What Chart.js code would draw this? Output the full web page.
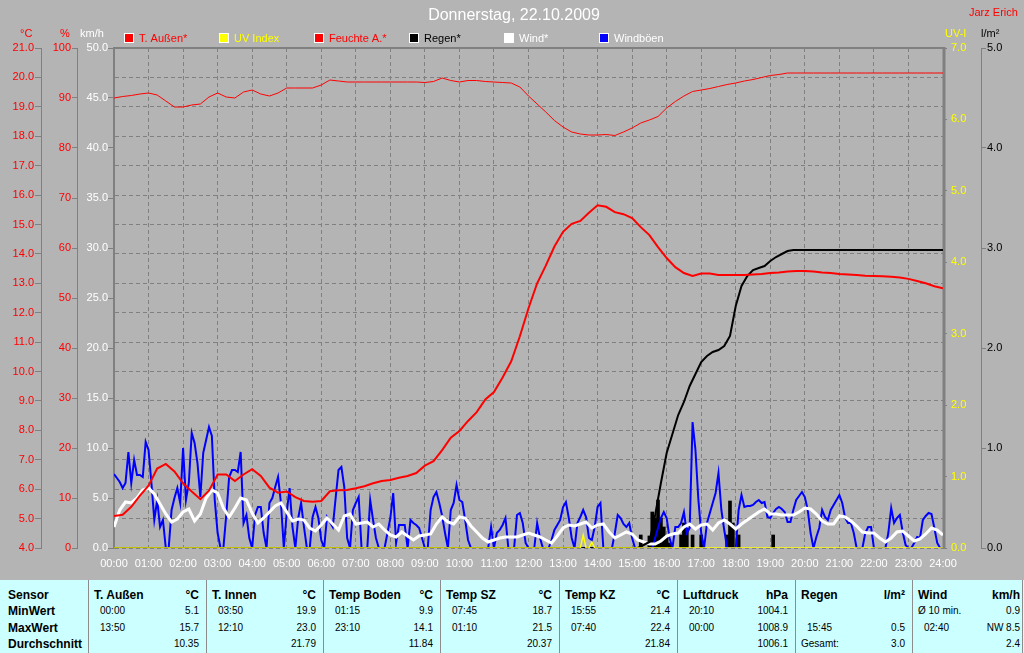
<!DOCTYPE html>
<html>
<head>
<meta charset="utf-8">
<title>Donnerstag, 22.10.2009</title>
<script src="https://cdn.jsdelivr.net/npm/chart.js@4.4.0/dist/chart.umd.min.js"></script>
<style>
  body { margin: 0; background: #b4b4b4; width: 1024px; height: 653px; overflow: hidden; position: relative; }
  #chart { position: absolute; left: 0; top: 0; }
  #stats { position: absolute; left: 0; top: 580px; width: 1024px; height: 73px; background: #ccffff; }
  #stats span { position: absolute; white-space: nowrap; line-height: 16px; color: #000; }
  #stats .b { font-weight: bold; font-family: "Liberation Sans", Arial, sans-serif; font-size: 12px; }
  #stats .sep { position: absolute; top: 0; width: 1px; height: 73px; background: #8c8c8c; }
</style>
</head>
<body>
<canvas id="chart" width="1024" height="580"></canvas>
<div id="stats"></div>
<script>
// --- chart data -------------------------------------------------------
const chartTitle = 'Donnerstag, 22.10.2009';
const stationName = 'Jarz Erich';
const unitNames = ['°C', '%', 'km/h', 'UV-I', 'l/m²'];
const legendNames = ['T. Außen*', 'UV Index', 'Feuchte A.*', 'Regen*', 'Wind*', 'Windböen'];
const hourLabels = ['00:00','01:00','02:00','03:00','04:00','05:00','06:00','07:00','08:00','09:00','10:00','11:00',
  '12:00','13:00','14:00','15:00','16:00','17:00','18:00','19:00','20:00','21:00','22:00','23:00','24:00'];

// outside temperature, every 15 min (°C)
const tempC = [
  5.09, 5.13, 5.4, 5.78,  6.12, 6.7, 6.86, 6.6,  6.2, 5.92, 5.66, 5.95,  6.5, 6.5, 6.28, 6.5,
  6.68, 6.45, 6.05, 5.88,  5.92, 5.73, 5.6, 5.57,  5.6, 5.93, 5.96, 5.97,  6.03, 6.1, 6.2, 6.28,
  6.31, 6.39, 6.45, 6.55,  6.8, 6.95, 7.33, 7.75,  7.98, 8.32, 8.62, 9.05,  9.3, 9.8, 10.35, 11.2,
  12.15, 13.0, 13.6, 14.25,  14.75, 15.02, 15.12, 15.4,  15.65, 15.6, 15.42, 15.35,  15.22, 14.91, 14.64, 14.23,
  13.86, 13.55, 13.35, 13.25,  13.33, 13.33, 13.28, 13.28,  13.28, 13.28, 13.3, 13.32,  13.35, 13.37, 13.4, 13.42,
  13.42, 13.4, 13.37, 13.35,  13.32, 13.3, 13.28, 13.26,  13.25, 13.24, 13.22, 13.2,  13.15, 13.08, 13.0, 12.9,
  12.83
];
// outside humidity, every 15 min (%)
const humidity = [
  90.0, 90.3, 90.5, 90.8,  91.0, 90.6, 89.4, 88.2,  88.2, 88.6, 88.8, 90.2,  91.0, 90.2, 90.0, 91.2,
  91.6, 90.8, 90.4, 91.0,  92.0, 92.0, 92.0, 92.0,  92.6, 93.6, 93.4, 93.2,  93.2, 93.2, 93.2, 93.2,
  93.2, 93.2, 93.2, 93.2,  93.1, 93.3, 94.0, 93.5,  93.2, 93.5, 93.5, 93.3,  93.2, 93.1, 93.0, 92.2,
  90.4, 88.8, 87.2, 85.5,  84.2, 83.2, 82.8, 82.6,  82.6, 82.7, 82.5, 83.2,  84.0, 85.0, 85.6, 86.3,
  88.0, 89.3, 90.4, 91.3,  91.6, 91.9, 92.3, 92.7,  93.0, 93.4, 93.7, 94.1,  94.5, 94.7, 95.0, 95.0,
  95.0, 95.0, 95.0, 95.0,  95.0, 95.0, 95.0, 95.0,  95.0, 95.0, 95.0, 95.0,  95.0, 95.0, 95.0, 95.0,
  95.0
];
// mean wind, every 10 min (km/h)
const windAvg = [
  2.1, 3.8, 4.6, 4.5, 5.0, 5.8,   6.0, 5.4, 4.4, 3.4, 2.6, 2.9,   3.6, 3.9, 2.7, 3.4, 5.0, 5.8,
  5.5, 4.0, 3.1, 4.0, 5.0, 4.8,   3.5, 2.5, 3.0, 3.6, 4.2, 4.5,   3.6, 2.7, 2.9, 2.8, 2.0, 1.7,
  2.3, 3.0, 2.4, 1.8, 3.2, 3.4,   2.4, 2.5, 2.6, 2.1, 2.4, 1.8,   1.3, 1.1, 1.6, 1.2, 0.8, 1.2,
  1.3, 1.4, 2.4, 3.1, 2.6, 2.4,   3.1, 3.0, 2.2, 1.6, 1.0, 0.6,   0.8, 1.0, 1.1, 1.1, 1.1, 1.3,
  1.5, 1.3, 1.1, 0.8, 0.5, 1.2,   2.0, 2.3, 2.2, 2.4, 2.6, 2.0,   2.3, 2.4, 1.6, 1.0, 1.3, 1.6,
  1.4, 0.8, 0.6, 0.4, 0.4, 0.7,   1.2, 1.4, 1.5, 2.1, 2.4, 1.9,   2.3, 2.4, 1.8, 2.5, 2.8, 2.4,
  1.9, 2.4, 2.8, 3.2, 3.6, 3.9,   3.4, 3.4, 3.3, 3.3, 3.3, 3.6,   4.0, 3.9, 3.4, 2.7, 2.4, 2.4,
  3.2, 3.1, 2.7, 2.2, 1.6, 1.5,   1.5, 1.0, 0.6, 1.0, 1.6, 1.7,   1.2, 0.7, 0.9, 1.4, 2.0, 1.8,
  1.3
];
// wind gusts, every 5 min (km/h)
const windGust = [
  7.4, 7.0, 6.6, 6.0, 6.5, 9.6, 6.5, 8.8, 7.3, 7.3, 7.1, 10.6,
  9.8, 6.5, 2.8, 4.8, 2.1, 2.8, 0, 0, 3.8, 5.0, 6.0, 4.5,
  10.0, 4.8, 6.5, 11.5, 10.5, 8.5, 5.1, 9.5, 10.8, 12.1, 11.2, 4.8,
  1.5, 0, 0, 3.3, 7.1, 7.8, 7.8, 7.6, 9.6, 2.5, 3.3, 1.0,
  0, 3.3, 4.1, 4.1, 1.5, 0, 4.5, 5.0, 6.1, 7.1, 4.5, 0,
  3.5, 6.0, 2.1, 0, 3.0, 4.5, 2.1, 0, 0, 3.1, 4.1, 3.0,
  0.8, 0, 3.1, 2.6, 2.1, 5.0, 7.8, 8.1, 6.1, 1.0, 0, 3.8,
  4.5, 5.1, 0, 0, 0, 4.8, 2.8, 1.0, 0, 0, 0, 1.5,
  3.0, 5.5, 0.5, 2.3, 2.3, 2.3, 0, 2.8, 2.5, 2.3, 2.0, 1.0,
  0, 0, 3.8, 5.1, 5.6, 4.5, 3.2, 1.5, 0, 3.8, 4.5, 6.3,
  4.8, 4.6, 2.8, 0.8, 0, 0, 0, 0, 0, 0, 0, 2.1,
  0, 1.5, 1.8, 2.3, 3.0, 0, 0, 0, 3.3, 3.5, 2.5, 0.5,
  0, 0, 0, 2.5, 1.0, 0, 0, 0, 0.8, 1.8, 2.3, 2.8,
  4.1, 4.6, 3.0, 1.0, 0, 2.5, 3.1, 3.8, 3.1, 1.0, 0.8, 2.1,
  4.1, 4.5, 0, 0, 0, 0, 1.5, 3.3, 3.0, 2.4, 2.1, 2.5,
  1.0, 0, 0, 0, 0, 0, 0, 0, 1.0, 2.0, 3.0, 3.6,
  3.0, 1.0, 0, 2.1, 2.1, 2.5, 3.6, 1.5, 2.0, 12.6, 9.8, 4.9,
  1.5, 0, 2.5, 3.5, 4.5, 5.5, 7.5, 3.8, 1.8, 0, 0, 0,
  0, 3.8, 5.3, 4.1, 4.2, 4.2, 4.3, 4.6, 4.8, 4.5, 4.6, 3.1,
  3.0, 3.5, 3.9, 4.1, 3.9, 3.6, 2.6, 2.6, 3.8, 4.8, 5.2, 5.6,
  5.1, 3.8, 1.5, 0, 1.1, 2.0, 3.8, 3.1, 2.8, 3.8, 4.3, 4.8,
  5.3, 4.5, 3.0, 2.5, 2.5, 1.5, 0, 0, 0, 1.5, 2.1, 2.1,
  0, 0, 0, 0, 0, 1.5, 4.0, 2.5, 3.0, 3.3, 1.6, 0.3,
  0, 0, 0.5, 1.1, 1.0, 2.8, 3.2, 3.5, 3.4, 2.0, 0.5, 0,
  0
];
// rain, running total (l/m²)
const rainSumTimes = ['00:00','15:10','15:20','15:30','15:40','15:50','16:00','16:10','16:20','16:30','16:40','16:50',
  '17:00','17:10','17:20','17:30','17:40','17:50','18:00','18:10','18:20','18:30','18:40','18:50',
  '19:00','19:10','19:20','19:30','19:40','24:00'];
const rainSum = [0, 0, 0.03, 0.06, 0.33, 0.65, 0.95, 1.14, 1.33, 1.46, 1.62, 1.74,
  1.86, 1.92, 1.96, 1.98, 2.02, 2.12, 2.42, 2.62, 2.72, 2.78, 2.8, 2.82,
  2.87, 2.91, 2.94, 2.97, 2.98, 2.98];
// rain per 5 min (l/m²)
const rainBarTimes = ['15:15','15:30','15:35','15:40','15:45','15:50','15:55','16:00','16:05','16:25','16:30','16:35',
  '16:45','17:00','17:45','17:50','17:55','18:05','19:05'];
const rainBars = [0.13, 0.12, 0.36, 0.3, 0.48, 0.3, 0.21, 0.12, 0.05, 0.13, 0.25, 0.2,
  0.13, 0.13, 0.13, 0.47, 0.25, 0.13, 0.13];
// UV index
const uvTimes = ['00:00','13:30','13:35','13:40','13:45','13:50','13:55','24:00'];
const uvIndex = [0, 0, 0.18, 0, 0, 0.08, 0, 0];

// --- table under the chart -------------------------------------------
const tableCols = ['Sensor', 'T. Außen', 'T. Innen', 'Temp Boden', 'Temp SZ', 'Temp KZ', 'Luftdruck', 'Regen', 'Wind'];
const tableUnits = ['', '°C', '°C', '°C', '°C', '°C', 'hPa', 'l/m²', 'km/h'];
const tableRows = ['MinWert', 'MaxWert', 'Durchschnitt'];
const minTimes = ['00:00', '03:50', '01:15', '07:45', '15:55', '20:10', '', 'Ø 10 min.'];
const minVals = ['5.1', '19.9', '9.9', '18.7', '21.4', '1004.1', '', '0.9'];
const maxTimes = ['13:50', '12:10', '23:10', '01:10', '07:40', '00:00', '15:45', '02:40'];
const maxVals = ['15.7', '23.0', '14.1', '21.5', '22.4', '1008.9', '0.5', 'NW 8.5'];
const avgTimes = ['', '', '', '', '', '', 'Gesamt:', ''];
const avgVals = ['10.35', '21.79', '11.84', '20.37', '21.84', '1006.1', '3.0', '2.4'];

// --- fonts -------------------------------------------------------------
function hasFont(name) {
  const c = document.createElement('canvas').getContext('2d');
  c.font = '20px monospace';
  const a = c.measureText('abcdefghijWM00:00').width;
  c.font = '20px "' + name + '", monospace';
  return c.measureText('abcdefghijWM00:00').width !== a;
}
const narrow = hasFont('Liberation Sans Narrow');
const FAMILY = narrow ? '"Liberation Sans Narrow", "Liberation Sans", Arial' : '"Liberation Sans", Arial';
const FS = narrow ? 13 : 11;
const TFS = narrow ? 12 : 10;

const hrs = t => { const p = t.split(':'); return +p[0] + p[1] / 60; };
const grey = '#808080';

const framePlugin = {
  id: 'frame',
  beforeDatasetsDraw(chart) {
    const { ctx, chartArea: a } = chart;
    ctx.save();
    ctx.strokeStyle = grey;
    ctx.lineWidth = 2;
    ctx.beginPath();
    ctx.moveTo(a.left, a.bottom);
    ctx.lineTo(a.left, a.top);
    ctx.lineTo(a.right, a.top);
    ctx.stroke();
    ctx.lineWidth = 3;
    ctx.beginPath();
    ctx.moveTo(a.right + 1, a.top - 1);
    ctx.lineTo(a.right + 1, a.bottom);
    ctx.stroke();
    ctx.restore();
  }
};

const textPlugin = {
  id: 'texts',
  afterDraw(chart) {
    const ctx = chart.ctx;
    ctx.save();
    ctx.textBaseline = 'alphabetic';
    ctx.textAlign = 'center';
    ctx.fillStyle = '#ffffff';
    ctx.font = '16px "Liberation Sans", Arial';
    ctx.fillText(chartTitle, 514, 20);

    ctx.textAlign = 'left';
    ctx.font = FS + 'px ' + FAMILY;
    ctx.fillStyle = '#ff0000';
    ctx.fillText(stationName, 969, 16);

    const unitX = [20, 60, 80, 945, 981];
    const unitCol = ['#ff0000', '#ff0000', '#ffffff', '#ffff00', '#000000'];
    unitNames.forEach((u, i) => { ctx.fillStyle = unitCol[i]; ctx.fillText(u, unitX[i], 37); });

    const boxCol = ['#ff0000', '#ffff00', '#ff0000', '#000000', '#ffffff', '#0000ff'];
    const txtCol = ['#ff0000', '#ffff00', '#ff0000', '#000000', '#ffffff', '#ffffff'];
    legendNames.forEach((name, i) => {
      const x = 124 + 95 * i;
      ctx.fillStyle = '#ffffff';
      ctx.fillRect(x, 33, 10, 10);
      ctx.fillStyle = boxCol[i];
      ctx.fillRect(x + 1, 34, 8, 8);
      ctx.fillStyle = txtCol[i];
      ctx.fillText(name, x + 15, 42);
    });
    ctx.restore();
  }
};

const tickFont = { family: FAMILY, size: FS };
const yAxis = (pos, weight, min, max, step, color, width, tick, pad, digits, extra) => Object.assign({
  position: pos, weight: weight, min: min, max: max,
  afterFit: s => { s.width = width; },
  ticks: { stepSize: step, color: color, font: tickFont, padding: pad,
           callback: v => digits ? v.toFixed(1) : String(v) },
  grid: { drawOnChartArea: false, color: grey, tickColor: grey, tickLength: tick },
  border: { display: true, color: grey, width: 1 }
}, extra || {});

new Chart(document.getElementById('chart'), {
  type: 'line',
  data: {
    datasets: [
      { label: 'UV Index', yAxisID: 'yUV', order: 0, borderColor: '#ffff00', borderWidth: 1.5,
        data: uvTimes.map((t, i) => ({ x: hrs(t), y: uvIndex[i] })) },
      { label: 'Feuchte A.', yAxisID: 'yH', order: 1, borderColor: '#ff0000', borderWidth: 1,
        data: humidity.map((v, i) => ({ x: i * 0.25, y: v })) },
      { label: 'T. Außen', yAxisID: 'yT', order: 2, borderColor: '#ff0000', borderWidth: 2,
        data: tempC.map((v, i) => ({ x: i * 0.25, y: v })) },
      { label: 'Regen', yAxisID: 'yR', order: 3, borderColor: '#000000', borderWidth: 2,
        data: rainSumTimes.map((t, i) => ({ x: hrs(t), y: rainSum[i] })) },
      { label: 'Wind', yAxisID: 'yW', order: 4, borderColor: '#ffffff', borderWidth: 3,
        data: windAvg.map((v, i) => ({ x: i / 6, y: v })) },
      { label: 'Windböen', yAxisID: 'yW', order: 5, borderColor: '#0000ff', borderWidth: 2,
        data: windGust.map((v, i) => ({ x: i / 12, y: v })) },
      { type: 'bar', label: 'Regen 5 min', yAxisID: 'yR', order: 6, backgroundColor: '#000000',
        barThickness: 3, data: rainBarTimes.map((t, i) => ({ x: hrs(t), y: rainBars[i] })) }
    ]
  },
  options: {
    responsive: false,
    animation: false,
    events: [],
    layout: { padding: { top: 48, left: 0, right: 0, bottom: 0 } },
    elements: { point: { radius: 0 }, line: { tension: 0 } },
    plugins: { legend: { display: false }, tooltip: { enabled: false } },
    scales: {
      x: {
        type: 'linear', min: 0, max: 24, offset: false,
        afterFit: s => { s.height = 32; },
        ticks: { stepSize: 1, color: '#ffffff', font: tickFont, padding: 9, autoSkip: false, maxRotation: 0,
                 callback: v => hourLabels[v] },
        grid: { color: grey, drawTicks: false, offset: false },
        border: { display: false, dash: [4, 3] }
      },
      yT: yAxis('left', 2, 4, 21, 1, '#ff0000', 41, 6, 1, true, {
        grid: { drawOnChartArea: true, color: grey, tickColor: grey, tickLength: 6 },
        border: { display: true, color: grey, width: 1, dash: [4, 3] }
      }),
      yH: yAxis('left', 1, 0, 100, 10, '#ff0000', 36, 5, 1, false),
      yW: yAxis('left', 0, 0, 50, 5, '#ffffff', 37, 6, 0, true, {}),
      yUV: yAxis('right', 0, 0, 7, 1, '#ffff00', 38, 4, 4, true),
      yR: yAxis('right', 1, 0, 5, 1, '#000000', 43, 5, 1, true)
    }
  },
  plugins: [framePlugin, textPlugin]
});
</script>
<script>
// table
(function () {
  const box = document.getElementById('stats');
  const edges = [0, 88, 206, 323, 440, 559, 677, 795, 912, 1022];
  const tops = [7, 23, 40, 56];
  const add = (txt, cls, css) => {
    const s = document.createElement('span');
    s.textContent = txt;
    if (cls) s.className = cls;
    s.style.cssText = css;
    if (!cls) { s.style.fontFamily = FAMILY; s.style.fontSize = TFS + 'px'; }
    box.appendChild(s);
  };
  for (let i = 1; i < edges.length; i++) {
    const d = document.createElement('div');
    d.className = 'sep';
    d.style.left = edges[i] + 'px';
    box.appendChild(d);
  }
  add(tableCols[0], 'b', 'left:8px;top:' + tops[0] + 'px');
  tableRows.forEach((r, i) => add(r, 'b', 'left:8px;top:' + tops[i + 1] + 'px'));
  const rows = [[minTimes, minVals], [maxTimes, maxVals], [avgTimes, avgVals]];
  for (let c = 1; c < tableCols.length; c++) {
    const l = edges[c], r = edges[c + 1] || 1024;
    const rp = c === tableCols.length - 1 ? 2 : 7;
    add(tableCols[c], 'b', 'left:' + (l + 6) + 'px;top:' + tops[0] + 'px');
    add(tableUnits[c], 'b', 'right:' + (1024 - r + rp) + 'px;top:' + tops[0] + 'px');
    rows.forEach((pair, k) => {
      const t = pair[0][c - 1], v = pair[1][c - 1];
      if (t) add(t, '', 'left:' + (l + (/^\d/.test(t) ? 12 : 6)) + 'px;top:' + tops[k + 1] + 'px');
      if (v) add(v, '', 'right:' + (1024 - r + rp) + 'px;top:' + tops[k + 1] + 'px');
    });
  }
})();
</script>
</body>
</html>
